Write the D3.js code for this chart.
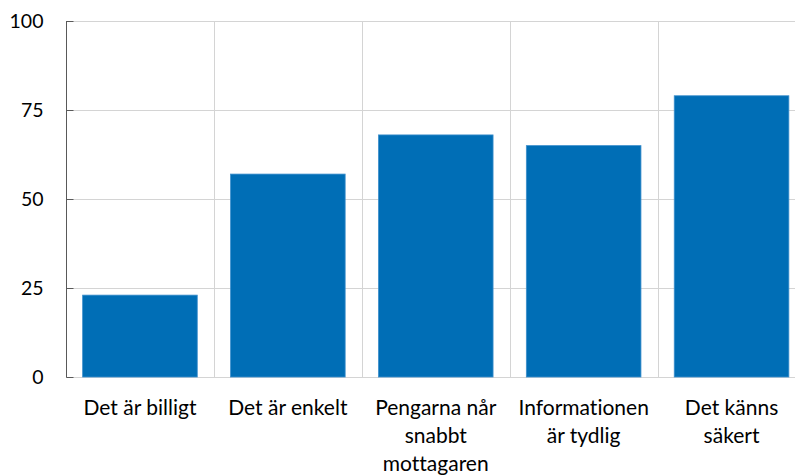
<!DOCTYPE html>
<html><head><meta charset="utf-8">
<script src="https://cdn.jsdelivr.net/npm/d3@7"></script>
<style>body{margin:0;background:#fff;overflow:hidden}svg{display:block}text{font-variant-ligatures:none;font-feature-settings:"liga" 0}</style>
</head><body>
<script>
const categories = ["Det är billigt", "Det är enkelt", "Pengarna når\nsnabbt\nmottagaren", "Informationen\när tydlig", "Det känns\nsäkert"];
const values = [23, 57, 68, 65, 79];
const yTicks = [0, 25, 50, 75, 100];

const W = 795, H = 475;
const svg = d3.select("body").append("svg").attr("width", W).attr("height", H);
const mLeft = 66, mRight = 805.5, mTop = 21, mBottom = 377;
const font = "Lato, 'Open Sans', sans-serif";

const x = d3.scaleBand().domain(categories).range([mLeft, mRight]).paddingInner(0.225).paddingOuter(0.1125);
const y = d3.scaleLinear().domain([0, 100]).range([mBottom, mTop]);

// horizontal gridlines
svg.append("g").selectAll("line").data(yTicks).join("line")
  .attr("x1", mLeft).attr("x2", mRight)
  .attr("y1", d => Math.round(y(d)) + 0.5).attr("y2", d => Math.round(y(d)) + 0.5)
  .attr("stroke", "#d4d4d4").attr("stroke-width", 1);

// vertical gridlines between categories
svg.append("g").selectAll("line").data(categories.slice(1)).join("line")
  .attr("x1", d => Math.round(x(d) - x.step() * x.paddingInner() / 2) + 0.5)
  .attr("x2", d => Math.round(x(d) - x.step() * x.paddingInner() / 2) + 0.5)
  .attr("y1", mTop).attr("y2", mBottom)
  .attr("stroke", "#d4d4d4").attr("stroke-width", 1);

// bars
svg.append("g").selectAll("rect").data(values).join("rect")
  .attr("x", (d, i) => x(categories[i]))
  .attr("y", d => y(d))
  .attr("width", x.bandwidth())
  .attr("height", d => y(0) - y(d))
  .attr("fill", "#006EB6")
  .attr("stroke", "#3d8fcc").attr("stroke-width", 0.8);

// y axis
const yAxis = d3.axisRight(y).tickValues(yTicks).tickSize(7).tickFormat("");
const ga = svg.append("g").attr("transform", `translate(${mLeft + 0.5},0)`).call(yAxis);
ga.select(".domain").attr("stroke", "#595959").attr("d", `M0,${mTop}V${mBottom + 0.5}`);
ga.selectAll(".tick line").attr("stroke", "#595959");

// y tick labels
svg.append("g").selectAll("text").data(yTicks).join("text")
  .attr("x", 43.5).attr("y", d => y(d)).attr("dy", "0.35em")
  .attr("text-anchor", "end")
  .attr("font-family", font).attr("font-size", 19.5).attr("fill", "#000")
  .text(d => d);

// x labels
const xl = svg.append("g").selectAll("text").data(categories).join("text")
  .attr("text-anchor", "middle")
  .attr("font-family", font).attr("font-size", 21).attr("fill", "#000");
xl.each(function(d) {
  const t = d3.select(this);
  d.split("\n").forEach((line, i) => {
    t.append("tspan").attr("x", x(d) + x.bandwidth() / 2).attr("y", 414.5 + i * 28.3).text(line);
  });
});
</script>
</body></html>
